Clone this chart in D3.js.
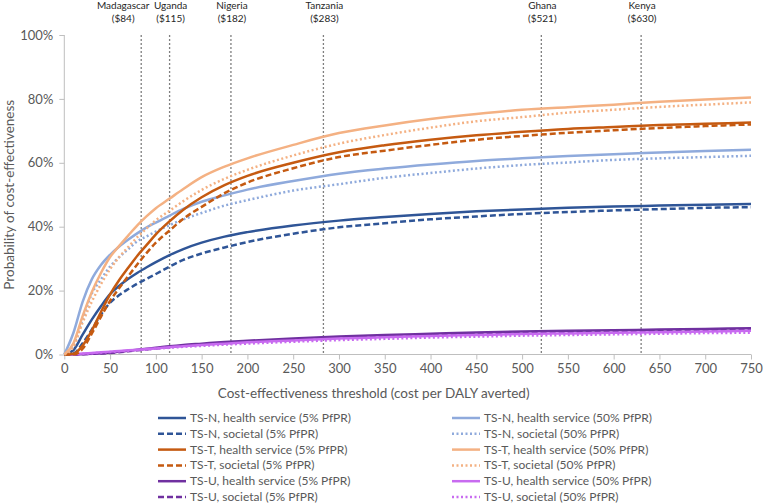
<!DOCTYPE html>
<html>
<head>
<meta charset="utf-8">
<script src="https://cdn.jsdelivr.net/npm/d3@7/dist/d3.min.js"></script>
<style>
  html, body { margin: 0; padding: 0; background: #fff; }
  svg { display: block; }
</style>
</head>
<body>
<svg id="chart" width="763" height="504"></svg>
<script>
// ---------------- DATA ----------------
const thresholds = [0,10,20,30,40,50,60,70,80,90,100,115,130,150,175,200,250,300,350,400,450,500,550,600,650,700,750];

const tsN_hs_5  = [0,1.4,6.2,10.9,15.1,18.9,21.5,23.7,25.6,27.3,28.9,31.1,33.0,35.0,36.9,38.3,40.4,41.9,43.0,44.0,44.8,45.4,45.9,46.3,46.6,46.9,47.1];
const tsN_soc_5 = [0,0.3,3.5,7.8,12.5,16.2,18.6,20.5,22.2,23.7,25.2,27.5,29.6,31.6,33.5,35.2,37.8,39.8,41.1,42.3,43.2,44.0,44.6,45.1,45.5,45.9,46.1];
const tsT_hs_5  = [0,0.2,2.8,7.5,13.3,18.8,23.3,27.2,31.0,34.3,37.6,41.7,45.3,49.2,53.0,55.9,60.0,63.3,65.5,67.2,68.6,69.7,70.6,71.2,71.8,72.2,72.6];
const tsT_soc_5 = [0,0,1.8,6.5,11.8,16.8,20.8,24.6,28.3,31.8,35.0,38.8,42.5,46.2,50.5,53.8,58.3,61.8,63.8,65.6,67.2,68.4,69.4,70.2,70.9,71.5,72.0];
const tsU_hs_5  = [0,0,0.1,0.2,0.4,0.6,0.9,1.2,1.5,1.8,2.1,2.6,3.0,3.4,3.9,4.3,5.0,5.6,6.1,6.5,6.9,7.2,7.4,7.6,7.8,8.0,8.2];
const tsU_soc_5 = [0,0,0.1,0.2,0.3,0.5,0.7,1.0,1.3,1.6,1.9,2.3,2.7,3.1,3.6,4.0,4.7,5.3,5.8,6.2,6.6,6.9,7.1,7.3,7.5,7.7,7.8];

const tsN_hs_50  = [0,6.8,16.5,23.5,28.0,31.2,33.8,36.0,38.0,39.8,41.3,43.5,45.6,47.8,49.8,51.6,54.3,56.6,58.2,59.5,60.6,61.4,62.1,62.7,63.2,63.7,64.1];
const tsN_soc_50 = [0,3.0,11.0,19.0,23.5,27.5,30.5,33.0,35.5,37.0,38.5,40.5,42.3,44.3,46.6,48.3,51.3,53.3,55.3,56.8,58.2,59.3,60.1,60.9,61.4,61.8,62.2];
const tsT_hs_50  = [0,3.5,12.0,19.5,25.5,30.5,34.0,37.3,40.5,43.3,45.8,48.8,51.8,55.5,58.8,61.4,65.6,69.3,71.7,73.7,75.3,76.6,77.4,78.2,79.1,79.8,80.4];
const tsT_soc_50 = [0,2.4,10.0,16.5,22.0,26.7,30.5,33.7,36.8,39.5,42.0,45.0,48.0,51.5,55.0,57.8,62.3,66.0,68.7,71.0,73.0,74.3,75.7,76.6,77.5,78.2,78.9];
const tsU_hs_50  = [0,0.1,0.3,0.5,0.7,0.9,1.1,1.3,1.5,1.7,1.9,2.3,2.6,3.0,3.4,3.8,4.4,5.0,5.4,5.8,6.1,6.4,6.6,6.8,7.0,7.2,7.4];
const tsU_soc_50 = [0,0.05,0.2,0.4,0.6,0.8,1.0,1.2,1.4,1.6,1.8,2.1,2.4,2.7,3.1,3.4,4.0,4.5,4.9,5.3,5.6,5.9,6.1,6.3,6.5,6.7,6.8];

const countries = ["Madagascar","Uganda","Nigeria","Tanzania","Ghana","Kenya"];
const countryThresholds = [84,115,182,283,521,630];

const xTicks = [0,50,100,150,200,250,300,350,400,450,500,550,600,650,700,750];
const yTicks = [0,20,40,60,80,100];

const seriesNames = [
  "TS-N, health service (5% PfPR)", "TS-N, health service (50% PfPR)",
  "TS-N, societal (5% PfPR)",       "TS-N, societal (50% PfPR)",
  "TS-T, health service (5% PfPR)", "TS-T, health service (50% PfPR)",
  "TS-T, societal (5% PfPR)",       "TS-T, societal (50% PfPR)",
  "TS-U, health service (5% PfPR)", "TS-U, health service (50% PfPR)",
  "TS-U, societal (5% PfPR)",       "TS-U, societal (50% PfPR)"
];
const seriesValues = [tsN_hs_5, tsN_hs_50, tsN_soc_5, tsN_soc_50, tsT_hs_5, tsT_hs_50, tsT_soc_5, tsT_soc_50, tsU_hs_5, tsU_hs_50, tsU_soc_5, tsU_soc_50];

// ---------------- STYLE ----------------
const colors = ["#2F5597","#8FAADC","#2F5597","#8FAADC","#C55A11","#F4B183","#C55A11","#F4B183","#7030A0","#C86BF0","#7030A0","#C86BF0"];
const dashes = [null,null,"6,3","2,2.5", null,null,"6,3","2,2.5", null,null,"6,3","2,2.5"];
const FONT = "Lato, 'Open Sans', sans-serif";
const TXT = "#595959";

// ---------------- CHART ----------------
const svg = d3.select("#chart");
const x = d3.scaleLinear().domain([0,750]).range([64.3,751]);
const y = d3.scaleLinear().domain([0,100]).range([354.5,35]);

// axes
const yAxis = svg.append("g").attr("transform","translate(64.3,0)")
  .call(d3.axisLeft(y).tickValues(yTicks).tickFormat(d => d + "%").tickSize(5).tickPadding(6));
const xAxis = svg.append("g").attr("transform","translate(0,354.5)")
  .call(d3.axisBottom(x).tickValues(xTicks).tickSize(5).tickPadding(4));
[yAxis, xAxis].forEach(g => {
  g.select(".domain").attr("stroke","#BFBFBF").attr("stroke-width",1);
  g.selectAll(".tick line").attr("stroke","#BFBFBF");
  g.selectAll(".tick text").attr("fill",TXT).attr("font-family",FONT).attr("font-size",13);
});
yAxis.select(".domain").attr("d", `M0,${y(100)}V${y(0)}`);
xAxis.select(".domain").attr("d", `M${x(0)},0H${x(750)}`);

// country reference lines
const cg = svg.append("g");
countryThresholds.forEach((t,i) => {
  cg.append("line").attr("x1",x(t)).attr("x2",x(t)).attr("y1",y(100)).attr("y2",y(0))
    .attr("stroke","#7F7F7F").attr("stroke-width",1.3).attr("stroke-dasharray","2,2");
  const cx = x(t) + (i === 0 ? -18 : 1);
  const tt = cg.append("text").attr("x",cx).attr("text-anchor","middle")
    .attr("font-family",FONT).attr("font-size",10).attr("fill","#262626");
  tt.append("tspan").attr("x",cx).attr("y",9).text(countries[i]);
  tt.append("tspan").attr("x",cx).attr("y",21.5).text("($" + t + ")");
});

// curves
const line = d3.line().x((d,i) => x(thresholds[i])).y(d => y(d)).curve(d3.curveMonotoneX);
const order = [8,10,9,11,0,2,1,3,4,6,5,7];
order.forEach(k => {
  svg.append("path").datum(seriesValues[k]).attr("d", line)
    .attr("fill","none").attr("stroke",colors[k]).attr("stroke-width",2.5)
    .attr("stroke-dasharray", dashes[k]).attr("stroke-linejoin","round");
});

// axis titles
svg.append("text").attr("x", (x(0)+x(750))/2 - 34).attr("y",398).attr("text-anchor","middle")
  .attr("font-family",FONT).attr("font-size",13.5).attr("fill",TXT)
  .text("Cost-effectiveness threshold (cost per DALY averted)");
svg.append("text").attr("transform",`translate(14,${(y(0)+y(100))/2}) rotate(-90)`).attr("text-anchor","middle")
  .attr("font-family",FONT).attr("font-size",13.5).attr("fill",TXT)
  .text("Probability of cost-effectiveness");

// legend
const lg = svg.append("g");
seriesNames.forEach((name,k) => {
  const col = k % 2, row = Math.floor(k / 2);
  const x0 = col === 0 ? 158 : 452;
  const yy = 418 + row * 15.8;
  lg.append("line").attr("x1",x0).attr("x2",x0+28).attr("y1",yy).attr("y2",yy)
    .attr("stroke",colors[k]).attr("stroke-width",2.5).attr("stroke-dasharray",dashes[k]);
  lg.append("text").attr("x",x0+32).attr("y",yy).attr("dy","0.33em")
    .attr("font-family",FONT).attr("font-size",12).attr("fill",TXT).text(name);
});
</script>
</body>
</html>
